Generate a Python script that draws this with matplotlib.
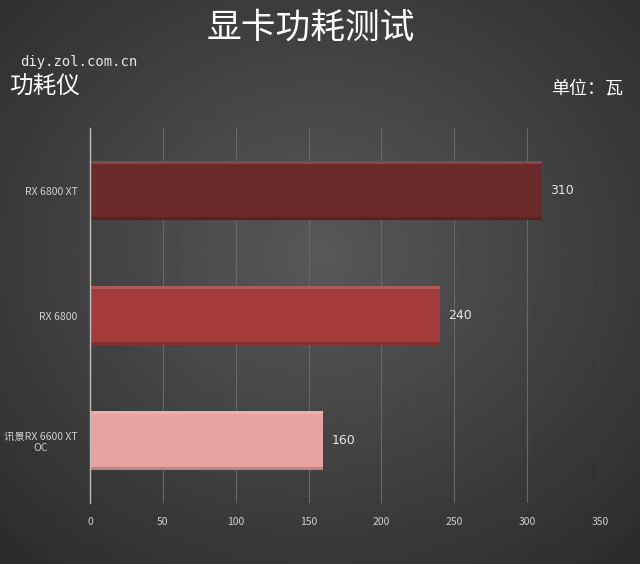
import matplotlib.pyplot as plt
import numpy as np

plt.rcParams['font.family'] = ['Noto Sans CJK SC', 'DejaVu Sans']

# data
cards = ['RX 6800 XT', 'RX 6800', '讯景RX 6600 XT\nOC']
power = [310, 240, 160]
bar_colors = ['#6b2a2a', '#a43c3c', '#e8a2a2']
xticks = [0, 50, 100, 150, 200, 250, 300, 350]

fig = plt.figure(figsize=(6.4, 5.64), dpi=100)

# radial dark-grey background
bg = fig.add_axes([0, 0, 1, 1])
gx, gy = np.meshgrid(np.linspace(-1, 1, 640), np.linspace(-1, 1, 564))
r = np.sqrt((gx * 0.85) ** 2 + ((gy + 0.1) * 0.85) ** 2)
shade = np.clip(0.345 - 0.14 * r, 0.175, 0.345)
bg.imshow(shade, cmap='gray', vmin=0, vmax=1, aspect='auto', extent=[0, 1, 0, 1],
          interpolation='bilinear')
bg.set_axis_off()

ax = fig.add_axes([0.1406, 0.108, 0.797, 0.665])
ax.set_facecolor('none')

y = np.arange(len(cards))
h = 0.47
ax.barh(y, power, height=h, color=bar_colors, edgecolor='none', zorder=3)
# bevel: light top strip, dark bottom strip
for yi, v, c in zip(y, power, bar_colors):
    ax.barh(yi - h / 2 + 0.012, v, height=0.024, color='white', alpha=0.15,
            edgecolor='none', zorder=4)
    ax.barh(yi + h / 2 - 0.012, v, height=0.024, color='black', alpha=0.18,
            edgecolor='none', zorder=4)
    ax.text(v + 6, yi, str(v), va='center', ha='left', color='#e6e6e6',
            fontsize=9, family=['DejaVu Sans'])

ax.set_xlim(0, 350)
ax.set_ylim(2.5, -0.5)
ax.set_xticks(xticks)
ax.set_yticks(y)
ax.set_yticklabels(cards)
ax.tick_params(axis='x', colors='#d0d0d0', labelsize=7.5, length=0, pad=10)
ax.tick_params(axis='y', colors='#d0d0d0', labelsize=7.5, length=0, pad=9)
for lab in ax.get_yticklabels():
    lab.set_multialignment('center')
ax.grid(axis='x', color='#686868', linewidth=0.8, zorder=0)
for s in ['top', 'right', 'bottom']:
    ax.spines[s].set_visible(False)
ax.spines['left'].set_color('#bdbdbd')
ax.spines['left'].set_linewidth(1.0)
ax.spines['left'].set_zorder(5)

fig.text(0.485, 0.95, '显卡功耗测试', ha='center', va='center', color='white',
         fontsize=25)
fig.text(0.032, 0.89, 'diy.zol.com.cn', ha='left', va='center', color='#e8e8e8',
         fontsize=10, family=['DejaVu Sans Mono'])
fig.text(0.015, 0.845, '功耗仪', ha='left', va='center', color='white',
         fontsize=17, fontweight='medium')
fig.text(0.973, 0.842, '单位：瓦', ha='right', va='center', color='white',
         fontsize=13)

fig.savefig('out.png', dpi=100)
